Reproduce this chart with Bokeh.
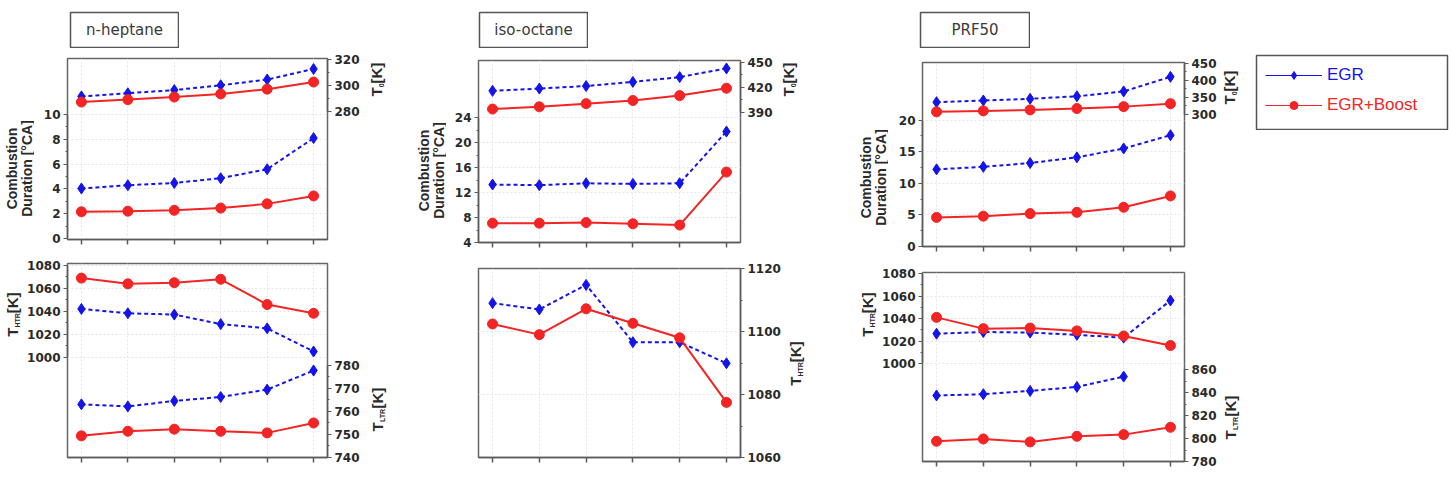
import math
from bokeh.plotting import figure
from bokeh.models import (Range1d, LinearAxis, FixedTicker, Label, Spacer, Legend,
                          LegendItem, CustomLabelingPolicy)
from bokeh.layouts import row, column
from bokeh.embed import file_html
from bokeh.resources import INLINE

# operating points along the sweep (unlabelled x axis)
points = [1, 2, 3, 4, 5, 6]

# n-heptane
hep_t0_egr = [291.4, 293.8, 296.3, 300.0, 304.4, 312.6]
hep_t0_boost = [287.0, 288.9, 290.9, 293.3, 297.0, 302.5]
hep_dur_egr = [4.03, 4.29, 4.47, 4.86, 5.58, 8.09]
hep_dur_boost = [2.15, 2.2, 2.27, 2.45, 2.79, 3.43]
hep_thtr_egr = [1042.2, 1038.4, 1037.3, 1029.0, 1025.3, 1005.2]
hep_thtr_boost = [1069.0, 1064.0, 1065.0, 1068.0, 1046.0, 1038.4]
hep_tltr_egr = [763.1, 762.2, 764.6, 766.3, 769.5, 777.8]
hep_tltr_boost = [749.4, 751.4, 752.3, 751.4, 750.7, 755.0]

# iso-octane
iso_t0_egr = [415.7, 418.5, 421.5, 426.5, 432.3, 442.7]
iso_t0_boost = [393.8, 396.5, 400.3, 404.1, 410.0, 418.9]
iso_dur_egr = [13.3, 13.2, 13.5, 13.4, 13.5, 21.8]
iso_dur_boost = [7.1, 7.1, 7.2, 7.0, 6.8, 15.3]
iso_thtr_egr = [1109.0, 1107.0, 1114.8, 1096.6, 1096.6, 1089.9]
iso_thtr_boost = [1102.4, 1099.0, 1107.2, 1102.6, 1098.0, 1077.5]

# PRF50
prf_t0_egr = [335.6, 340.5, 345.4, 352.9, 367.3, 410.5]
prf_t0_boost = [306.8, 309.7, 312.6, 316.6, 322.3, 331.0]
prf_dur_egr = [12.2, 12.6, 13.2, 14.1, 15.5, 17.6]
prf_dur_boost = [4.6, 4.8, 5.2, 5.4, 6.2, 8.0]
prf_thtr_egr = [1026.5, 1028.0, 1027.5, 1025.5, 1023.0, 1056.0]
prf_thtr_boost = [1041.0, 1031.0, 1031.5, 1029.0, 1024.5, 1016.0]
prf_tltr_egr = [837.7, 838.8, 841.7, 845.2, 854.2]
prf_tltr_boost = [797.7, 799.7, 797.1, 802.0, 803.5, 809.9]

series_names = ["EGR", "EGR+Boost"]
fuel_names = ["n-heptane", "iso-octane", "PRF50"]

BLUE = "#1414ea"
RED = "#f22424"
FRAME = "#666666"
AXIS = "#5a5a5a"
GRID = "#e4e4e4"
TXT = "#2a2a2a"
TICK_FONT = "DejaVu Sans"
LABEL_FONT = "Liberation Sans"

# Arial-bold advance widths (em) used to lay out subscripted titles
CHAR_EM = {"T": .611, "H": .722, "R": .722, "L": .611, "0": .556, " ": .278,
           "[": .333, "]": .333, "K": .722}


def text_len(s, size):
    return sum(CHAR_EM.get(c, .6) for c in s) * size


def make_fig(width, height, borders, y_start, y_end, y_loc="left"):
    left, right, top, bottom = borders
    p = figure(width=width, height=height, x_range=Range1d(0.7, 6.3),
               y_range=Range1d(y_start, y_end), min_border_left=left,
               min_border_right=right, min_border_top=top,
               min_border_bottom=bottom, y_axis_location=y_loc,
               output_backend="svg", toolbar_location=None)
    p.outline_line_color = FRAME
    p.outline_line_width = 1.5
    xa = p.xaxis[0]
    xa.ticker = FixedTicker(ticks=points)
    # tick marks only, no tick labels on the sweep axis
    xa.major_label_policy = CustomLabelingPolicy(
        code="for (const i of indices) { indices.unset(i) }")
    xa.major_label_standoff = 0
    xa.major_tick_in = 0
    xa.major_tick_out = 5
    xa.minor_tick_out = 0
    xa.axis_line_color = AXIS
    xa.axis_line_width = 1.5
    xa.major_tick_line_color = AXIS
    xa.major_tick_line_width = 1.5
    p.xgrid.ticker = FixedTicker(ticks=points)
    p.xgrid.grid_line_color = GRID
    p.xgrid.grid_line_dash = "2 2"
    p.ygrid.grid_line_color = GRID
    p.ygrid.grid_line_dash = "2 2"
    return p


def style_y(ax, ticks, minor, bounds):
    ax.ticker = FixedTicker(ticks=ticks, minor_ticks=minor)
    ax.bounds = bounds
    ax.major_label_text_font = TICK_FONT
    ax.major_label_text_font_style = "bold"
    ax.major_label_text_font_size = "12px"
    ax.major_label_text_color = TXT
    ax.major_label_standoff = 3
    ax.major_tick_in = 0
    ax.major_tick_out = 4
    ax.minor_tick_in = 0
    ax.minor_tick_out = 2
    ax.axis_line_color = AXIS
    ax.axis_line_width = 1.5
    ax.major_tick_line_color = AXIS
    ax.minor_tick_line_color = AXIS


def left_axis(p, ticks, minor, bounds):
    ax = p.yaxis[0]
    style_y(ax, ticks, minor, bounds)
    p.ygrid.ticker = FixedTicker(ticks=ticks)
    return ax


def right_axis(p, start, end, ticks, minor, bounds):
    p.extra_y_ranges = {"right": Range1d(start, end)}
    ax = LinearAxis(y_range_name="right")
    style_y(ax, ticks, minor, bounds)
    p.add_layout(ax, "right")
    return ax


def draw_pair(p, egr, boost, range_name="default"):
    xe = points[:len(egr)]
    p.line(xe, egr, color=BLUE, line_width=2, line_dash="4 3",
           y_range_name=range_name)
    p.scatter(xe, egr, marker="diamond", size=11, color=BLUE,
              y_range_name=range_name)
    p.line(points, boost, color=RED, line_width=2, y_range_name=range_name)
    p.scatter(points, boost, marker="circle", size=10, color=RED,
              y_range_name=range_name)


def strip(width, height, left_abs, top_abs, bt, bb):
    """Narrow blank panel beside a plot; its frame lines up with the plot's."""
    s = figure(width=width, height=height, x_range=Range1d(0, 1),
               y_range=Range1d(0, 1), min_border_left=0, min_border_right=0,
               min_border_top=bt, min_border_bottom=bb, x_axis_location=None,
               y_axis_location=None, output_backend="svg",
               toolbar_location=None)
    s.outline_line_color = None
    s.grid.visible = False
    return s, (left_abs, top_abs + height - bb)


def vlabel(st, xc_abs, yc_abs, text, size):
    """Bottom-to-top text centred on an absolute page position."""
    s, (ox, oy) = st
    s.add_layout(Label(x=xc_abs - ox, y=oy - yc_abs, x_units="screen",
                       y_units="screen", text=text, angle=math.pi / 2,
                       text_align="center", text_baseline="middle",
                       text_font=LABEL_FONT, text_font_style="bold",
                       text_font_size=f"{size}px", text_color=TXT))


def temp_title(st, xc_abs, yc_abs, sub):
    pieces = [("T", 15, 0), (sub, 7, 5), (" [K]", 15, 0)]
    total = sum(text_len(t, z) for t, z, _ in pieces)
    pos = yc_abs + total / 2
    for t, z, shift in pieces:
        w = text_len(t, z)
        vlabel(st, xc_abs + shift, pos - w / 2, t, z)
        pos -= w


def duration_title(st, xc_abs, yc_abs):
    vlabel(st, xc_abs, yc_abs, "Combustion", 14)
    vlabel(st, xc_abs + 15, yc_abs, "Duration [°CA]", 14)


def title_box(name, w):
    p = figure(width=w, height=37, x_range=Range1d(0, 1),
               y_range=Range1d(0, 1), min_border_left=1, min_border_right=1,
               min_border_top=1, min_border_bottom=1, x_axis_location=None,
               y_axis_location=None, output_backend="svg",
               toolbar_location=None)
    p.grid.visible = False
    p.outline_line_color = "#555555"
    p.outline_line_width = 1.5
    p.add_layout(Label(x=0.5, y=0.5, text=name, text_align="center",
                       text_baseline="middle", text_font="DejaVu Sans",
                       text_font_size="15px", text_color="#3a3a3a"))
    return p


# ---------------- n-heptane ----------------
h_top = make_fig(333, 207, (33, 40, 10, 8), -0.08, 14.5)
left_axis(h_top, [0, 2, 4, 6, 8, 10], [1, 3, 5, 7, 9], (0, 10))
right_axis(h_top, 180.7, 320.7, [280, 300, 320], [290, 310], (280, 320))
draw_pair(h_top, hep_t0_egr, hep_t0_boost, "right")
draw_pair(h_top, hep_dur_egr, hep_dur_boost)
ht_l = strip(34, 207, 0, 48, 10, 8)
ht_r = strip(33, 207, 367, 48, 10, 8)
duration_title(ht_l, 11, 176)
temp_title(ht_r, 376, 85, "0")

h_bot = make_fig(343, 224, (43, 40, 8, 22), 913.0, 1081.7)
left_axis(h_bot, [1000, 1020, 1040, 1060, 1080], [1010, 1030, 1050, 1070], (1000, 1080))
right_axis(h_bot, 740, 824.3, [740, 750, 760, 770, 780], [745, 755, 765, 775], (740, 780))
draw_pair(h_bot, hep_thtr_egr, hep_thtr_boost)
draw_pair(h_bot, hep_tltr_egr, hep_tltr_boost, "right")
hb_l = strip(24, 224, 0, 255, 8, 22)
hb_r = strip(33, 224, 367, 255, 8, 22)
temp_title(hb_l, 12, 312, "HTR")
temp_title(hb_r, 377, 407, "LTR")

col1 = column(Spacer(height=11), row(Spacer(width=69), title_box(fuel_names[0], 110)),
              row(ht_l[0], h_top, ht_r[0]), row(hb_l[0], h_bot, hb_r[0]))

# ---------------- iso-octane ----------------
i_top = make_fig(330, 210, (32, 36, 12, 8), 4.0, 33.2)
left_axis(i_top, [4, 8, 12, 16, 20, 24], [6, 10, 14, 18, 22], (4, 24))
right_axis(i_top, 233.0, 452.3, [390, 420, 450], [405, 435], (390, 450))
draw_pair(i_top, iso_t0_egr, iso_t0_boost, "right")
draw_pair(i_top, iso_dur_egr, iso_dur_boost)
it_l = strip(46, 210, 400, 48, 12, 8)
it_r = strip(54, 210, 776, 48, 12, 8)
duration_title(it_l, 423, 178)
temp_title(it_r, 788, 85, "0")

i_bot = make_fig(384, 221, (78, 44, 10, 22), 1060, 1120, y_loc="right")
left_axis(i_bot, [1060, 1080, 1100, 1120], [1070, 1090, 1110], (1060, 1120))
draw_pair(i_bot, iso_thtr_egr, iso_thtr_boost)
ib_r = strip(46, 221, 784, 258, 10, 22)
temp_title(ib_r, 795, 361, "HTR")

col2 = column(Spacer(height=11), row(Spacer(width=78), title_box(fuel_names[1], 110)),
              row(it_l[0], i_top, it_r[0]), row(i_bot, ib_r[0]))

# ---------------- PRF50 ----------------
p_top = make_fig(332, 214, (34, 36, 14, 11), 0.0, 29.1)
left_axis(p_top, [0, 5, 10, 15, 20], [2.5, 7.5, 12.5, 17.5], (0, 20))
right_axis(p_top, -92.0, 453.0, [300, 350, 400, 450], [325, 375, 425], (300, 450))
draw_pair(p_top, prf_t0_egr, prf_t0_boost, "right")
draw_pair(p_top, prf_dur_egr, prf_dur_boost)
pt_l = strip(58, 214, 830, 48, 14, 11)
pt_r = strip(20, 214, 1220, 48, 14, 11)
duration_title(pt_l, 865, 182)
temp_title(pt_r, 1229, 90, "0")

p_bot = make_fig(342, 217, (44, 36, 10, 18), 912.9, 1080.9)
left_axis(p_bot, [1000, 1020, 1040, 1060, 1080], [1010, 1030, 1050, 1070], (1000, 1080))
right_axis(p_bot, 780, 945.2, [780, 800, 820, 840, 860], [790, 810, 830, 850], (780, 860))
draw_pair(p_bot, prf_thtr_egr, prf_thtr_boost)
draw_pair(p_bot, prf_tltr_egr, prf_tltr_boost, "right")
pb_l = strip(48, 217, 830, 262, 10, 18)
pb_r = strip(20, 217, 1220, 262, 10, 18)
temp_title(pb_l, 867, 312, "HTR")
temp_title(pb_r, 1230, 415, "LTR")

col3 = column(Spacer(height=11), row(Spacer(width=89), title_box(fuel_names[2], 111)),
              row(pt_l[0], p_top, pt_r[0]), row(pb_l[0], p_bot, pb_r[0]))

# ---------------- legend ----------------
lg = figure(width=211, height=76, x_range=Range1d(0, 1), y_range=Range1d(0, 1),
            min_border_left=16, min_border_right=4, min_border_top=1,
            min_border_bottom=1, x_axis_location=None, y_axis_location=None,
            output_backend="svg", toolbar_location=None)
lg.grid.visible = False
lg.outline_line_color = "#555555"
lg.outline_line_width = 1.5
nan = [float("nan")]
egr_line = lg.line(x=nan, y=nan, color=BLUE, line_width=1.2)
egr_mark = lg.scatter(x=nan, y=nan, marker="diamond", size=16, color=BLUE)
bst_line = lg.line(x=nan, y=nan, color=RED, line_width=1.2)
bst_mark = lg.scatter(x=nan, y=nan, marker="circle", size=9, color=RED)
for name, rends, colr, loc in [(series_names[0], [egr_line, egr_mark], BLUE, (9, 44)),
                               (series_names[1], [bst_line, bst_mark], RED, (9, 14))]:
    leg = Legend(items=[LegendItem(label=name, renderers=rends)], location=loc,
                 padding=0, margin=0, border_line_color=None,
                 background_fill_alpha=0, glyph_width=57, glyph_height=20,
                 label_height=20, label_standoff=5, label_text_color=colr,
                 label_text_font=LABEL_FONT, label_text_font_size="17px")
    lg.add_layout(leg)

col4 = column(Spacer(height=54), lg)

layout = row(col1, col2, col3, col4)
open("out.html", "w").write(file_html(layout, INLINE, title="Combustion duration and temperatures"))
